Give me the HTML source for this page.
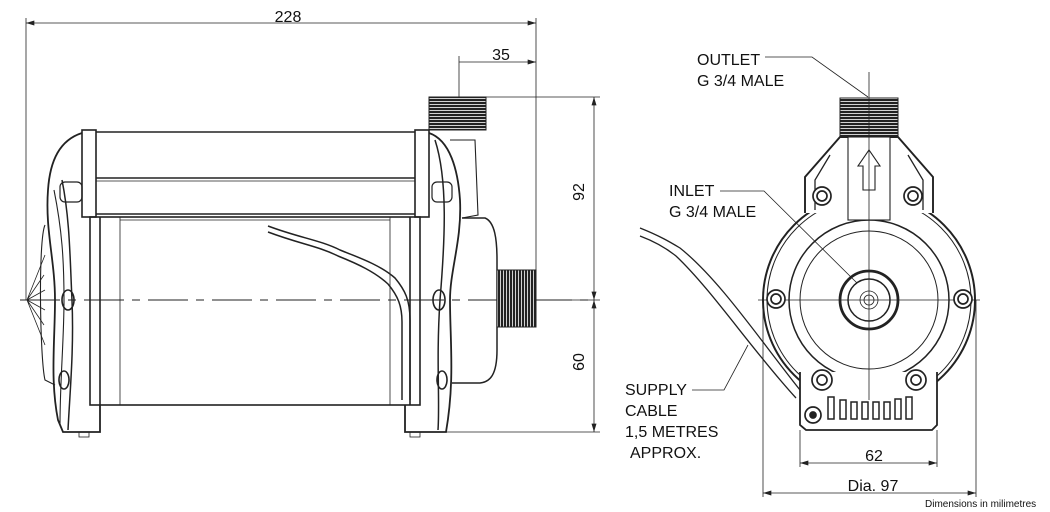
<!DOCTYPE html>
<html><head><meta charset="utf-8"><style>
html,body{margin:0;padding:0;background:#fff;}
svg{display:block}
text{font-family:"Liberation Sans",Arial,sans-serif;fill:#111;}
</style></head><body>
<svg width="1050" height="512" viewBox="0 0 1050 512" xmlns="http://www.w3.org/2000/svg">
<defs>
<marker id="a" viewBox="0 0 10 6" refX="10" refY="3" markerWidth="9" markerHeight="5" orient="auto-start-reverse" markerUnits="userSpaceOnUse"><path d="M0,0 L10,3 L0,6 z" fill="#222"/></marker>
<pattern id="th" width="4" height="3" patternUnits="userSpaceOnUse"><rect width="4" height="3" fill="#fff"/><rect width="4" height="2.2" fill="#222"/></pattern>
<pattern id="tv" width="3" height="4" patternUnits="userSpaceOnUse"><rect width="3" height="4" fill="#fff"/><rect width="2.2" height="4" fill="#222"/></pattern>
</defs>
<g stroke="#222" fill="none" stroke-width="0.8">
<line x1="26" y1="18" x2="26" y2="300"/>
<line x1="536" y1="18" x2="536" y2="272"/>
<line x1="26" y1="23" x2="536" y2="23" marker-start="url(#a)" marker-end="url(#a)"/>
<line x1="459" y1="56" x2="459" y2="100"/>
<line x1="459" y1="62" x2="536" y2="62" marker-end="url(#a)"/>
<line x1="486" y1="97" x2="600" y2="97"/>
<line x1="536" y1="300" x2="600" y2="300"/>
<line x1="415" y1="432" x2="600" y2="432"/>
<line x1="594" y1="97" x2="594" y2="300" marker-start="url(#a)" marker-end="url(#a)"/>
<line x1="594" y1="300" x2="594" y2="432" marker-start="url(#a)" marker-end="url(#a)"/>
<line x1="20" y1="300" x2="590" y2="300" stroke-dasharray="40,8,8,8" stroke-width="1"/>
<g stroke-width="1.6">
<rect x="82" y="130" width="14" height="87"/>
<rect x="415" y="130" width="14" height="87"/>
<line x1="96" y1="132" x2="415" y2="132"/>
<line x1="96" y1="178" x2="415" y2="178"/>
<line x1="96" y1="214" x2="415" y2="214"/>
<rect x="90" y="217" width="330" height="188"/>
<line x1="100" y1="217" x2="100" y2="405"/>
<line x1="410" y1="217" x2="410" y2="405"/>
</g>
<line x1="96" y1="181" x2="415" y2="181"/>
<line x1="120" y1="217" x2="120" y2="405"/>
<line x1="390" y1="217" x2="390" y2="405"/>
<line x1="120" y1="220" x2="390" y2="220"/>
<path d="M82,133 C60,140 50,160 48,190 C45,230 55,260 55,300 C55,340 50,380 58,420 L63,432 L100,432 L100,405" stroke-width="1.8"/>
<path d="M62,180 C70,220 70,260 72,300 C74,350 70,390 68,430" stroke-width="1.5"/>
<path d="M54,190 C62,230 64,260 64,300 C64,340 60,380 60,425" stroke-width="1.1"/>
<path d="M45,225 C38,240 40,360 45,380 L55,385" stroke-width="1.1"/>
<path d="M27,300 L45,255 M27,300 L45,345 M27,300 L44,275 M27,300 L44,325 M27,300 L45,290 M27,300 L45,310"/>
<ellipse cx="68" cy="300" rx="6" ry="10" stroke-width="1.6"/>
<ellipse cx="64" cy="380" rx="5" ry="9" stroke-width="1.6"/>
<rect x="60" y="182" width="22" height="20" rx="5" stroke-width="1.2"/>
<rect x="79" y="432" width="10" height="5"/>
<path d="M429,133 C450,140 458,170 460,200 C462,240 450,270 450,300 C450,340 455,380 446,432 L405,432 L405,405" stroke-width="1.8"/>
<path d="M435,140 C448,180 445,240 440,300 C436,360 440,400 438,430" stroke-width="1.5"/>
<ellipse cx="439" cy="300" rx="6" ry="10" stroke-width="1.6"/>
<ellipse cx="442" cy="380" rx="5" ry="9" stroke-width="1.6"/>
<rect x="432" y="182" width="20" height="20" rx="5" stroke-width="1.2"/>
<rect x="410" y="432" width="10" height="5"/>
<path d="M462,218 L485,218 C495,222 497,240 497,260 L497,350 C497,375 490,382 480,383 L452,383" stroke-width="1.5"/>
<path d="M450,140 L475,140 L478,215 L462,218" stroke-width="1.1"/>
<rect x="497" y="270" width="39" height="57" fill="url(#tv)" stroke-width="1"/>
<rect x="429" y="97" width="57" height="33" fill="url(#th)" stroke-width="1"/>
<path d="M268,226 C300,238 320,240 340,250 C360,258 380,265 395,278 C405,290 410,300 410,320 L410,400" stroke-width="1.5"/>
<path d="M268,232 C300,244 318,246 338,256 C358,264 375,272 388,284 C398,296 402,306 402,322 L402,400" stroke-width="1.5"/>
<line x1="800" y1="430" x2="800" y2="467"/>
<line x1="937" y1="430" x2="937" y2="467"/>
<line x1="800" y1="463" x2="937" y2="463" marker-start="url(#a)" marker-end="url(#a)"/>
<line x1="763" y1="300" x2="763" y2="497"/>
<line x1="976" y1="300" x2="976" y2="497"/>
<line x1="763" y1="493" x2="976" y2="493" marker-start="url(#a)" marker-end="url(#a)"/>
<circle cx="869" cy="300" r="106" stroke-width="2"/>
<circle cx="869" cy="300" r="102" stroke-width="1"/>
<circle cx="869" cy="300" r="80" stroke-width="1.5"/>
<circle cx="869" cy="300" r="69" stroke-width="1"/>
<circle cx="869" cy="300" r="29" stroke-width="2.8"/>
<circle cx="869" cy="300" r="21" stroke-width="1.5"/>
<circle cx="869" cy="300" r="9"/>
<circle cx="869" cy="300" r="5"/>
<path d="M805,213 L805,177 L840,137 L898,137 L933,177 L933,213" stroke-width="1.9" fill="#fff"/>
<path d="M815,210 L815,180 L830,155 M923,210 L923,180 L908,155" stroke-width="1.3"/>
<rect x="848" y="137" width="42" height="83" fill="#fff" stroke-width="1.1"/>
<path d="M863,190 L863,166 L858,166 L869,150 L880,166 L875,166 L875,190 Z" stroke-width="1.1"/>
<rect x="840" y="98" width="58" height="39" fill="url(#th)" stroke-width="1"/>
<path d="M800,372 L800,425 L806,430 L932,430 L937,425 L937,372" stroke-width="1.8" fill="#fff"/>
<g stroke-width="1.5">
<rect x="828" y="397" width="6" height="22"/><rect x="840" y="400" width="6" height="19"/><rect x="851" y="402" width="6" height="17"/>
<rect x="862" y="402" width="6" height="17"/><rect x="873" y="402" width="6" height="17"/><rect x="884" y="402" width="6" height="17"/>
<rect x="895" y="399" width="6" height="20"/><rect x="906" y="397" width="6" height="22"/>
</g>
<line x1="869" y1="72" x2="869" y2="400"/>
<line x1="758" y1="300" x2="980" y2="300"/>
<g stroke-width="1.7" fill="#fff">
<circle cx="822" cy="196" r="9"/><circle cx="822" cy="196" r="5"/>
<circle cx="913" cy="196" r="9"/><circle cx="913" cy="196" r="5"/>
<circle cx="776" cy="299" r="9"/><circle cx="776" cy="299" r="5"/>
<circle cx="963" cy="299" r="9"/><circle cx="963" cy="299" r="5"/>
<circle cx="822" cy="380" r="10"/><circle cx="822" cy="380" r="5"/>
<circle cx="916" cy="380" r="10"/><circle cx="916" cy="380" r="5"/>
<circle cx="813" cy="415" r="8"/><circle cx="813" cy="415" r="3" fill="#222"/>
</g>
<path d="M640,228 C660,236 670,242 680,248 C720,280 760,340 800,390" stroke-width="1.3"/>
<path d="M640,236 C656,242 666,248 676,256 C712,290 752,350 796,398" stroke-width="1.3"/>
<polyline points="765,57 812,57 868,97"/>
<polyline points="720,191 764,191 857,283"/>
<polyline points="692,390 724,390 748,345"/>
</g>
<g font-size="16">
<text x="288" y="22" text-anchor="middle">228</text>
<text x="501" y="60" text-anchor="middle">35</text>
<text transform="translate(584,192) rotate(-90)" text-anchor="middle">92</text>
<text transform="translate(584,362) rotate(-90)" text-anchor="middle">60</text>
<text x="697" y="65">OUTLET</text>
<text x="697" y="86">G 3/4 MALE</text>
<text x="669" y="196">INLET</text>
<text x="669" y="217">G 3/4 MALE</text>
<text x="625" y="395">SUPPLY</text>
<text x="625" y="416">CABLE</text>
<text x="625" y="437">1,5 METRES</text>
<text x="630" y="458">APPROX.</text>
<text x="874" y="461" text-anchor="middle">62</text>
<text x="873" y="491" text-anchor="middle">Dia. 97</text>
</g>
<text x="925" y="507" font-size="10">Dimensions in milimetres</text>
</svg>
</body></html>
